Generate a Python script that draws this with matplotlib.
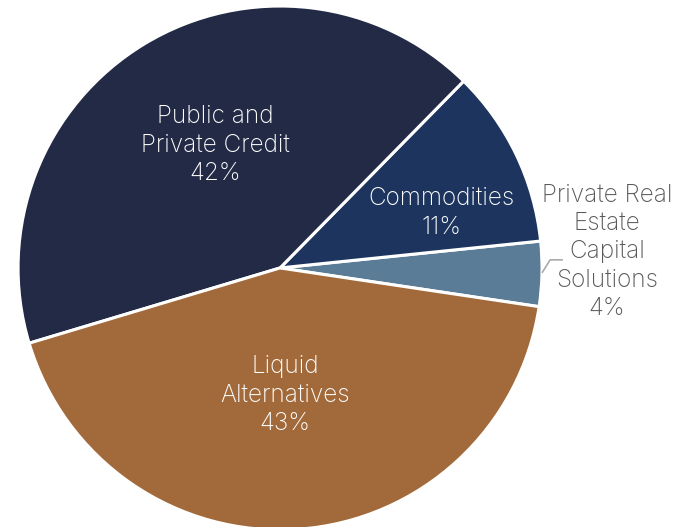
import matplotlib.pyplot as plt

plt.rcParams['font.family'] = ['Inter', 'DejaVu Sans']

labels = ['Private Real\nEstate\nCapital\nSolutions', 'Commodities', 'Public and\nPrivate Credit', 'Liquid\nAlternatives']
values = [4, 11, 42, 43]
colors = ['#5b7c96', '#1d355e', '#222a45', '#a26a3a']

# label anchor points in data coords (pie radius = 1)
label_pos = [(1.248, 0.061), (0.618, 0.21), (-0.248, 0.469), (0.019, -0.485)]
label_color = ['#595959', 'white', 'white', 'white']

fig = plt.figure(figsize=(6.9, 5.27), dpi=100)
ax = fig.add_axes([0, 0, 1, 1])
ax.pie(values, colors=colors, startangle=-8.5, counterclock=True, radius=1,
       wedgeprops=dict(edgecolor='white', linewidth=2.2))
ax.set_xlim(-1.069, 1.565)
ax.set_ylim(-0.989, 1.023)
ax.set_aspect('auto')
ax.axis('off')

for lab, v, (x, y), c in zip(labels, values, label_pos, label_color):
    ax.text(x, y, "{0}\n{1}%".format(lab, v), ha='center', va='center',
            color=c, fontsize=17.5, linespacing=1.3, fontweight='light')

# leader line for the small slice
ax.plot([1.0, 1.031, 1.08], [-0.019, 0.031, 0.031], color='#aaaaaa', lw=1.2,
        solid_capstyle='butt')

plt.savefig('out.png', dpi=100)
